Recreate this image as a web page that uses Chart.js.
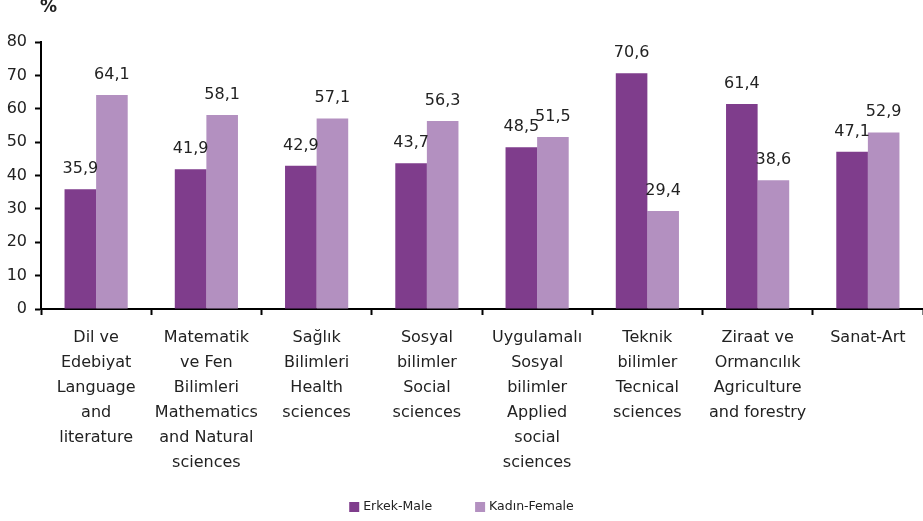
<!DOCTYPE html>
<html>
<head>
<meta charset="utf-8">
<script src="https://cdn.jsdelivr.net/npm/chart.js@4"></script>
<style>
  body { margin: 0; background: #fff; }
</style>
</head>
<body>
<canvas id="myChart" width="923" height="521"></canvas>
<script>
const categories = [
    ["Dil ve", "Edebiyat", "Language", "and", "literature"],
    ["Matematik", "ve Fen", "Bilimleri", "Mathematics", "and Natural", "sciences"],
    ["Sağlık", "Bilimleri", "Health", "sciences"],
    ["Sosyal", "bilimler", "Social", "sciences"],
    ["Uygulamalı", "Sosyal", "bilimler", "Applied", "social", "sciences"],
    ["Teknik", "bilimler", "Tecnical", "sciences"],
    ["Ziraat ve", "Ormancılık", "Agriculture", "and forestry"],
    ["Sanat-Art"]
];
const male = [35.9, 41.9, 42.9, 43.7, 48.5, 70.6, 61.4, 47.1];
const female = [64.1, 58.1, 57.1, 56.3, 51.5, 29.4, 38.6, 52.9];
const seriesNames = ["Erkek-Male", "Kadın-Female"];
const yTicks = [0, 10, 20, 30, 40, 50, 60, 70, 80];

const FONT = "'DejaVu Sans', sans-serif";

// values above bars (comma decimals), the % unit and a bottom legend
const extras = {
    id: "extras",
    afterDatasetsDraw(chart) {
        const ctx = chart.ctx;
        ctx.save();
        ctx.font = "16px " + FONT;
        ctx.fillStyle = "#222";
        ctx.textAlign = "center";
        ctx.textBaseline = "alphabetic";
        chart.data.datasets.forEach((ds, i) => {
            chart.getDatasetMeta(i).data.forEach((bar, j) => {
                ctx.fillText(ds.data[j].toFixed(1).replace(".", ","), bar.x, bar.y - 16);
            });
        });

        ctx.font = "bold 17px " + FONT;
        ctx.textAlign = "left";
        ctx.textBaseline = "middle";
        ctx.fillText("%", 40, 8);

        // legend
        ctx.font = "12.5px " + FONT;
        const gap = 43;
        const widths = chart.data.datasets.map(ds => 14 + ctx.measureText(ds.label).width);
        const total = widths.reduce((a, b) => a + b, 0) + gap * (widths.length - 1);
        let x = chart.width / 2 - total / 2;
        const y = 507;
        chart.data.datasets.forEach((ds, i) => {
            ctx.fillStyle = ds.backgroundColor;
            ctx.fillRect(x, y - 5, 10, 10);
            ctx.fillStyle = "#222";
            ctx.fillText(ds.label, x + 14, y);
            x += widths[i] + gap;
        });
        ctx.restore();
    }
};

new Chart("myChart", {
    type: "bar",
    data: {
        labels: categories,
        datasets: [{
            label: seriesNames[0],
            data: male,
            backgroundColor: "#7f3d8c"
        }, {
            label: seriesNames[1],
            data: female,
            backgroundColor: "#b390c0"
        }]
    },
    options: {
        responsive: false,
        animation: false,
        layout: { padding: { top: 42, left: 0, right: 0, bottom: 0 } },
        datasets: {
            bar: { categoryPercentage: 0.573, barPercentage: 1.0 }
        },
        scales: {
            x: {
                offset: true,
                grid: {
                    offset: true,
                    drawOnChartArea: false,
                    drawTicks: true,
                    tickLength: 6,
                    tickWidth: 2,
                    tickColor: "#000"
                },
                border: { color: "#000", width: 2 },
                ticks: {
                    color: "#222",
                    padding: 10,
                    maxRotation: 0,
                    autoSkip: false,
                    font: { family: FONT, size: 16, lineHeight: 1.5625 }
                },
                afterFit(scale) { scale.height = 212; }
            },
            y: {
                min: 0,
                max: 80,
                afterBuildTicks(scale) { scale.ticks = yTicks.map(v => ({ value: v })); },
                grid: {
                    drawOnChartArea: false,
                    drawTicks: true,
                    tickLength: 6,
                    tickWidth: 2,
                    tickColor: "#000"
                },
                border: { color: "#000", width: 2 },
                ticks: {
                    color: "#222",
                    padding: 8,
                    font: { family: FONT, size: 16 }
                },
                afterFit(scale) { scale.width = 41; }
            }
        },
        plugins: {
            legend: { display: false },
            tooltip: { enabled: false }
        }
    },
    plugins: [extras]
});
</script>
</body>
</html>
